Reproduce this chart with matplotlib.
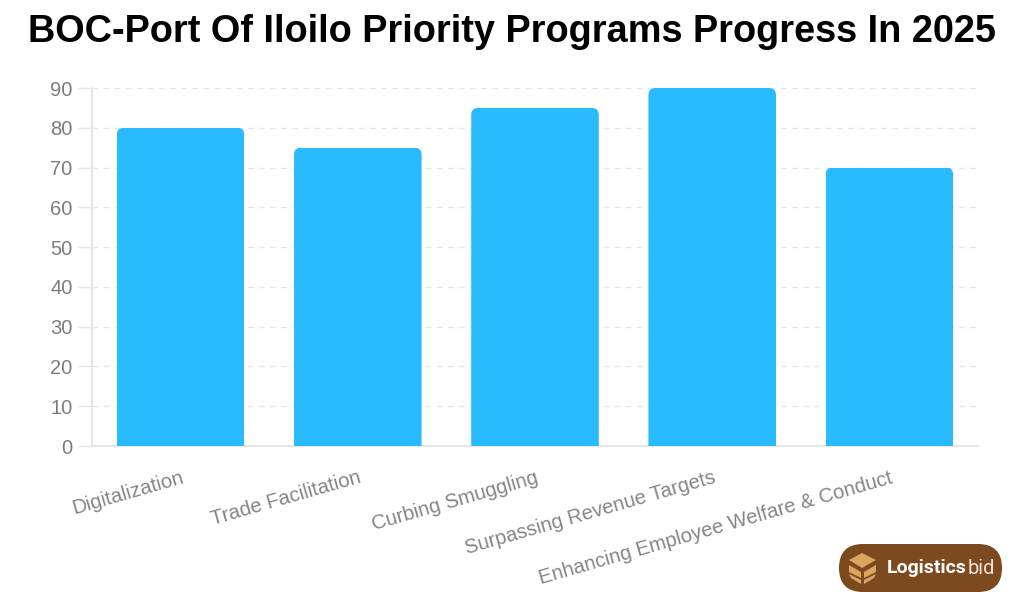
import matplotlib
matplotlib.use('Agg')
import matplotlib.pyplot as plt
from matplotlib.patches import FancyBboxPatch, Polygon
from matplotlib.transforms import IdentityTransform

## the data
categories = ['Digitalization', 'Trade Facilitation', 'Curbing Smuggling',
              'Surpassing Revenue Targets', 'Enhancing Employee Welfare & Conduct']
progress = [80, 75, 85, 90, 70]
yticks = [0, 10, 20, 30, 40, 50, 60, 70, 80, 90]

W, H = 1024, 592
fig = plt.figure(figsize=(W / 100, H / 100), dpi=100)
ax = fig.add_axes([92 / W, 1 - 446 / H, (978 - 92) / W, (446 - 88) / H])

bars = ax.bar(range(len(categories)), progress, width=0.72, color='#29bbff', zorder=3)

ax.set_xlim(-0.5, 4.5)
ax.set_ylim(0, 90)
ax.set_yticks(yticks)
ax.set_xticks(range(len(categories)))
ax.set_xticklabels(categories, rotation=16, ha='right', rotation_mode='anchor',
                   fontsize=14.6, color='#858585', family='Liberation Sans')
ax.tick_params(axis='x', length=0, pad=16)
ax.tick_params(axis='y', length=10, width=1, color='#e4e4e4', pad=4,
               labelsize=14.5, labelcolor='#7d7d7d')
for t in ax.get_yticklabels():
    t.set_family('Liberation Sans')

ax.grid(axis='y', color='#e6e6e6', linestyle=(0, (4, 4)), linewidth=1, zorder=0)
ax.set_axisbelow(True)
for s in ['top', 'right']:
    ax.spines[s].set_visible(False)
for s in ['left', 'bottom']:
    ax.spines[s].set_color('#e4e4e4')
    ax.spines[s].set_linewidth(1.3)

# round the top corners of the bars, works in pixels
fig.canvas.draw()
for b in bars:
    (x0, y0), (x1, y1) = ax.transData.transform([(b.get_x(), 0), (b.get_x() + b.get_width(), b.get_height())])
    clip = FancyBboxPatch((x0, y0 - 20), x1 - x0, y1 - y0 + 20,
                          boxstyle='round,pad=0,rounding_size=7', transform=IdentityTransform())
    b.set_clip_path(clip)

fig.text(512 / W, 1 - 32 / H, 'BOC-Port Of Iloilo Priority Programs Progress In 2025',
         ha='center', va='center', fontsize=27.3, fontweight='bold', color='black',
         family='Liberation Sans')

## logo badge, figure pixels
def px(x, y):
    return (x / W, 1 - y / H)

ft = fig.transFigure
pill = FancyBboxPatch((839, H - 592), 163, 48, boxstyle='round,pad=0,rounding_size=24',
                      transform=IdentityTransform(), facecolor='#7d4a1f', edgecolor='none')
fig.add_artist(pill)
box = '#dba45f'
for pts in ([(849, 560), (862, 553), (876, 560), (862, 568)],
            [(849, 565), (861, 572), (861, 578), (849, 572)],
            [(876, 565), (864, 572), (864, 578), (876, 572)],
            [(849, 574), (861, 580), (861, 584), (851, 578)],
            [(876, 574), (864, 580), (864, 584), (874, 578)]):
    fig.add_artist(Polygon([px(*p) for p in pts], closed=True, transform=ft,
                           facecolor=box, edgecolor='none'))
t1 = fig.text(*px(887, 568), 'Logistics', ha='left', va='center', fontsize=14,
              fontweight='bold', color='white', family='Roboto')
fig.canvas.draw()
ext = t1.get_window_extent()
fig.text(*px(ext.x1 + 0.5, 568), 'bid', ha='left', va='center', fontsize=14.5,
         color='#efe3d8', family='Roboto')

fig.savefig('out.png', dpi=100)
